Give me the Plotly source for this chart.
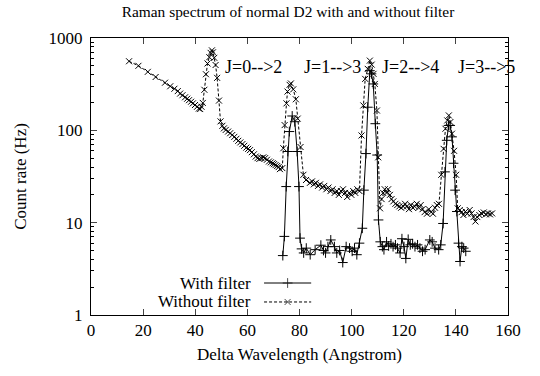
import plotly.graph_objects as go

# ---------------- data ----------------
without_x = [14.6, 18.2, 21.8, 24.8, 28.4, 30.4, 32.0, 33.3, 34.2, 35.1, 36.1, 36.9, 37.6, 38.4, 39.1,
             39.9, 40.7, 41.4, 41.9, 42.4, 42.9, 43.5, 44.1, 44.7, 45.4, 45.9, 46.4, 46.8, 47.3, 47.8,
             48.4, 49.1, 49.7, 50.4, 51.0, 51.7, 52.6, 53.4, 54.2, 55.0, 55.8, 56.5, 57.3, 58.1, 58.8,
             59.6, 60.3, 61.0, 61.7, 62.5, 63.2, 63.9, 64.6, 65.4, 66.1, 66.8, 67.5, 68.3, 69.0, 69.7,
             70.2, 70.8, 71.4, 72.0, 72.5, 73.4, 73.8, 74.3, 75.0, 75.4, 76.2, 76.7, 77.6, 78.6, 79.3,
             80.4, 81.5, 82.5, 84.0, 84.8, 85.5, 86.3, 87.1, 87.9, 88.7, 89.5, 90.3, 91.1, 91.9, 92.7,
             93.5, 94.3, 95.1, 95.9, 96.7, 97.5, 98.3, 99.1, 99.9, 100.6, 101.4, 102.2, 103.0, 103.8, 104.5,
             105.2, 106.2, 107.0, 107.7, 108.4, 108.9, 109.7, 110.2, 110.9, 111.5, 112.1, 112.7, 113.4,
             114.0, 114.7, 115.3, 116.0, 116.8, 117.5, 118.3, 119.0, 119.8, 120.5, 121.2, 122.0, 122.7,
             123.5, 124.2, 125.0, 125.7, 126.5, 127.2, 128.0, 128.9, 129.6, 130.5, 131.2, 132.0, 132.7,
             133.5, 134.4, 135.3, 136.0, 136.7, 137.3, 137.9, 138.5, 139.3, 140.1, 140.7, 141.5, 142.2,
             142.9, 143.7, 144.4, 145.3, 146.0, 146.8, 147.5, 148.2, 149.0, 149.8, 150.7, 151.5, 152.3,
             153.1, 153.9]
without_y = [560, 500, 430, 378, 328, 300, 282, 266, 250, 240, 228, 220, 212, 204, 196,
             188, 180, 172, 170, 180, 198, 275, 405, 530, 620, 690, 735, 700, 610, 510,
             370, 210, 125, 112, 105, 101, 97, 93, 89, 85, 81, 77, 74, 71, 68,
             65, 63, 61, 58, 55, 52, 50, 49, 50, 51, 50, 48, 46, 45, 44,
             43, 42, 41, 40, 38, 39, 64, 114, 196, 263, 311, 322, 278, 217, 134,
             66, 33, 29, 27, 28, 26, 27, 25, 26, 24, 25, 23, 24, 22, 23,
             21, 22, 20, 22, 23, 21, 19, 21, 20, 22, 21, 23, 22, 88, 186,
             361, 463, 569, 515, 409, 318, 164, 51, 14.3, 18, 21, 23, 21,
             23, 20, 18, 17, 16, 15.5, 15, 14.5, 15, 16, 15, 14, 15.5,
             14.5, 15, 16, 14.5, 15.5, 14, 13, 12.5, 14, 13, 12.5, 14.5, 15.5,
             16, 33, 63, 104, 128, 145, 123, 92, 60, 33, 14.3, 13.7, 13,
             12.1, 13.2, 12.5, 13.7, 12.6, 11.5, 10.3, 11.5, 12.1, 12.6, 12.9, 12.3, 12.6,
             12.3, 12.6]

with_x = [73.6, 74.2, 74.9, 75.5, 76.1, 77.2, 78.2, 79.1, 79.8, 80.2, 80.8, 81.6, 82.6, 84.1,
          86.0, 88.2, 89.2, 90.0, 90.9, 92.0, 93.4, 94.3, 95.4, 96.6, 97.9, 99.2, 100.2, 101.1,
          102.0, 103.0, 104.1, 104.7, 105.5, 106.2, 107.0, 107.6, 108.3, 109.1, 109.8, 110.3, 111.0,
          111.8, 112.4, 113.4, 114.2, 115.1, 115.9, 116.8, 117.6, 118.6, 119.3, 120.1, 120.8,
          121.7, 122.5, 123.4, 124.3, 125.3, 126.2, 127.2, 128.2, 130.0, 130.9, 132.0, 133.4,
          134.2, 135.1, 135.8, 136.5, 137.2, 137.8, 138.5, 139.1, 139.7, 140.4, 141.0, 141.6,
          142.3, 143.0, 143.8]
with_y = [4.4, 7.1, 24.6, 59, 97, 143, 124, 59, 24.6, 6.8, 5.2, 4.7, 5.3, 4.5,
          5.1, 5.7, 5.0, 4.7, 5.5, 6.5, 5.5, 4.7, 5.0, 3.7, 5.5, 5.3, 4.9, 5.3,
          4.5, 6.0, 8.7, 22.5, 56, 178, 443, 409, 318, 118, 54, 10.7, 6.2,
          5.5, 5.1, 6.2, 5.6, 5.9, 5.5, 5.75, 5.3, 4.7, 6.7, 5.5, 4.1,
          6.6, 5.75, 5.9, 5.5, 5.75, 5.3, 4.9, 5.1, 6.5, 6.2, 5.3, 5.1,
          5.75, 9.8, 35.5, 78, 113, 113, 85, 44, 22.5, 13.2, 6.0, 3.8,
          5.5, 5.3, 4.9]

line_labels = ["J=0-->2", "J=1-->3", "J=2-->4", "J=3-->5"]
line_label_x = [50.5, 81.0, 111.0, 140.0]
line_label_y = 485

legend_names = ["With filter", "Without filter"]

FONT = "Liberation Serif"

fig = go.Figure()

fig.add_trace(go.Scatter(
    x=with_x, y=with_y, mode="lines+markers", name=legend_names[0], showlegend=False,
    line=dict(color="black", width=1),
    marker=dict(symbol="cross-thin", size=7, color="black", line=dict(color="black", width=1)),
))
fig.add_trace(go.Scatter(
    x=without_x, y=without_y, mode="lines+markers", name=legend_names[1], showlegend=False,
    line=dict(color="black", width=1, dash="3px,2px"),
    marker=dict(symbol="x-thin", size=6, color="black", line=dict(color="black", width=1)),
))

# gnuplot-style key: text right-aligned, sample to the right
key_rows_y = [0.1155, 0.047]
key_dash = ["solid", "3px,2px"]
key_sym = ["cross-thin", "x-thin"]
for i in range(2):
    fig.add_trace(go.Scatter(
        x=[0.415, 0.4715, 0.528], y=[key_rows_y[i]] * 3, xaxis="x2", yaxis="y2",
        mode="lines+markers", showlegend=False, hoverinfo="skip",
        line=dict(color="black", width=1, dash=key_dash[i]),
        marker=dict(symbol=key_sym[i], size=[0, 7 if i == 0 else 6, 0], color="black",
                    line=dict(color="black", width=1)),
    ))
    fig.add_annotation(x=0.3885, y=key_rows_y[i], xref="paper", yref="paper",
                       text=legend_names[i], showarrow=False, xanchor="right", yanchor="middle",
                       font=dict(family=FONT, size=17, color="black"))

for t, lx in zip(line_labels, line_label_x):
    fig.add_annotation(x=lx, y=2.6857, xref="x", yref="y", text=t, showarrow=False,
                       xanchor="left", yanchor="middle",
                       font=dict(family=FONT, size=18, color="black"))

fig.update_layout(
    width=540, height=376,
    margin=dict(l=91, r=32, t=38, b=61),
    paper_bgcolor="white", plot_bgcolor="white",
    font=dict(family=FONT, size=17, color="black"),
    title=dict(text="Raman spectrum of normal D2 with and without filter",
               x=288 / 540, xref="container", xanchor="center",
               y=1 - 12 / 376, yref="container", yanchor="middle",
               font=dict(family=FONT, size=15.4, color="black")),
    xaxis=dict(range=[0, 160], dtick=20, tick0=0, ticks="inside", ticklen=6,
               showline=True, linecolor="black", linewidth=1, mirror="ticks",
               showgrid=False, zeroline=False,
               tickfont=dict(family=FONT, size=17),
               title=dict(text="Delta Wavelength (Angstrom)", standoff=8,
                          font=dict(family=FONT, size=17))),
    yaxis=dict(type="log", range=[0, 3], dtick=1, ticks="inside", ticklen=6,
               showline=True, linecolor="black", linewidth=1, mirror="ticks",
               showgrid=False, zeroline=False,
               minor=dict(ticks="inside", ticklen=3, dtick="D1", tickcolor="black", showgrid=False),
               tickfont=dict(family=FONT, size=17), ticklabelstandoff=4,
               title=dict(text="Count rate (Hz)", standoff=17,
                          font=dict(family=FONT, size=17))),
    xaxis2=dict(overlaying="x", range=[0, 1], visible=False, fixedrange=True),
    yaxis2=dict(overlaying="y", range=[0, 1], visible=False, fixedrange=True),
)

fig.write_html("out.html")
